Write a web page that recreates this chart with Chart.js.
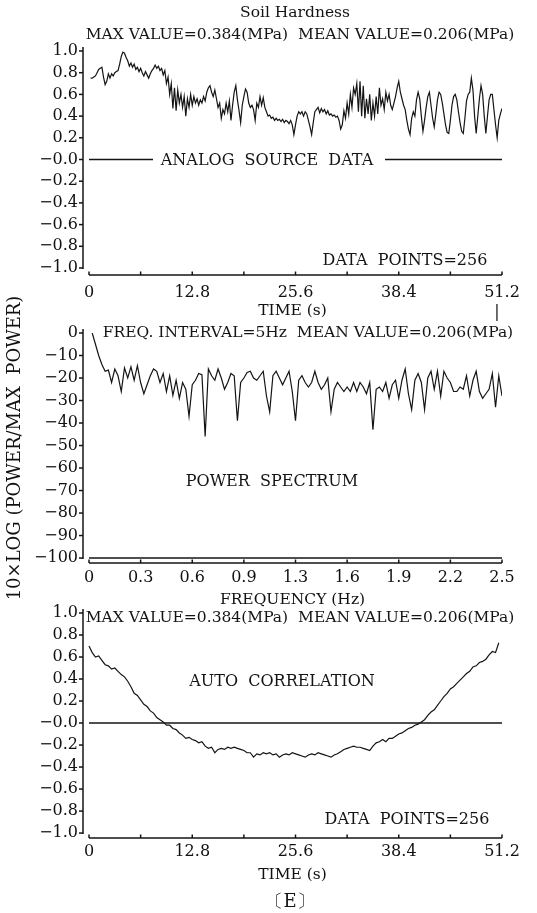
<!DOCTYPE html>
<html><head><meta charset="utf-8">
<script src="https://cdn.jsdelivr.net/npm/chart.js@4/dist/chart.umd.min.js"></script>
<style>
html,body{margin:0;padding:0;background:#fff;}
#wrap{position:relative;width:537px;height:913px;overflow:hidden;background:#fff;}
canvas{position:absolute;left:0;top:0;}
</style></head><body>
<div id="wrap">
<canvas id="c1" width="537" height="913"></canvas>
<canvas id="c2" width="537" height="913"></canvas>
<canvas id="c3" width="537" height="913"></canvas>
</div>
<script>
// ---------- data ----------
const sourceTimeStep = 0.2; // s
const sourceData = [
0.75,0.75,0.76,0.77,0.80,0.83,0.84,0.85,0.76,0.69,
0.72,0.79,0.75,0.79,0.77,0.80,0.81,0.82,0.88,0.95,
0.99,0.98,0.94,0.91,0.86,0.89,0.85,0.88,0.83,0.85,
0.81,0.84,0.80,0.77,0.81,0.78,0.75,0.79,0.82,0.84,
0.87,0.84,0.86,0.82,0.84,0.78,0.82,0.70,0.76,0.60,
0.70,0.47,0.66,0.45,0.64,0.52,0.60,0.48,0.58,0.40,
0.56,0.48,0.60,0.50,0.58,0.52,0.56,0.50,0.55,0.52,
0.58,0.54,0.62,0.66,0.68,0.62,0.58,0.64,0.56,0.48,
0.52,0.38,0.46,0.42,0.52,0.44,0.54,0.36,0.50,0.62,
0.68,0.55,0.45,0.34,0.50,0.58,0.65,0.62,0.52,0.48,
0.50,0.46,0.36,0.52,0.48,0.58,0.50,0.57,0.48,0.44,
0.40,0.41,0.38,0.39,0.36,0.38,0.36,0.37,0.35,0.37,
0.34,0.36,0.35,0.33,0.36,0.32,0.23,0.32,0.40,0.44,
0.42,0.44,0.40,0.44,0.42,0.36,0.30,0.23,0.34,0.44,
0.46,0.48,0.43,0.47,0.44,0.46,0.42,0.45,0.41,0.42,
0.40,0.41,0.39,0.40,0.36,0.28,0.32,0.45,0.38,0.52,
0.42,0.60,0.48,0.66,0.60,0.70,0.44,0.72,0.40,0.68,
0.38,0.56,0.42,0.60,0.36,0.52,0.40,0.58,0.42,0.66,
0.50,0.56,0.46,0.62,0.54,0.60,0.50,0.46,0.52,0.58,
0.66,0.72,0.62,0.56,0.50,0.46,0.36,0.28,0.23,0.38,
0.44,0.40,0.55,0.62,0.56,0.40,0.26,0.36,0.48,0.58,
0.62,0.50,0.38,0.30,0.42,0.55,0.62,0.60,0.52,0.42,
0.32,0.25,0.24,0.36,0.50,0.58,0.60,0.55,0.44,0.34,
0.26,0.24,0.38,0.54,0.60,0.62,0.75,0.64,0.40,0.24,
0.40,0.56,0.68,0.60,0.40,0.24,0.40,0.55,0.60,0.60,
0.46,0.32,0.20,0.36,0.42,0.47
];

const spectrumFreqStep = 5 / 256; // Hz
const spectrumData = [
0,-5,-10,-14,-17,-16.5,-22,-16,-19,-26,
-15.5,-20,-15,-21,-14.5,-22,-27,-23,-19,-16,
-17,-22,-18,-26,-19,-27.7,-21,-29,-22,-25,
-37,-23,-21,-18,-18.5,-46,-16,-19,-21,-16,
-20,-25,-22,-18,-19,-39,-22,-20,-17.5,-17,
-20,-21,-19,-17,-28,-35,-19,-17,-20,-23,
-20,-17,-26,-39,-21,-19,-22,-24,-22,-17,
-22,-25,-23,-20,-35,-25,-22,-24,-26,-24,
-26,-22,-26,-22,-24,-27,-22,-43,-25,-24,
-26,-22,-29,-23,-21,-29,-21,-16,-27,-34,
-21,-18,-22,-34,-20,-17,-25,-17,-28,-17,
-20,-22,-26,-26,-24,-25,-19,-28,-21,-17,
-26,-29,-27,-25,-18,-33,-19,-28
];
const spectrumFloor = -100;

const autoCorrLagStep = 0.4; // s
const autoCorrData = [
0.70,0.64,0.60,0.61,0.57,0.53,0.52,0.49,0.50,0.47,
0.44,0.42,0.38,0.33,0.27,0.25,0.21,0.17,0.15,0.11,
0.09,0.05,0.03,0.01,-0.02,-0.02,-0.05,-0.06,-0.09,-0.11,
-0.14,-0.13,-0.15,-0.16,-0.18,-0.17,-0.21,-0.23,-0.22,-0.27,
-0.24,-0.23,-0.24,-0.22,-0.23,-0.22,-0.23,-0.24,-0.25,-0.27,
-0.27,-0.31,-0.28,-0.29,-0.27,-0.28,-0.27,-0.29,-0.28,-0.31,
-0.29,-0.28,-0.29,-0.27,-0.28,-0.29,-0.30,-0.31,-0.29,-0.28,
-0.29,-0.27,-0.28,-0.29,-0.30,-0.31,-0.29,-0.28,-0.26,-0.24,
-0.23,-0.22,-0.21,-0.22,-0.22,-0.23,-0.24,-0.25,-0.21,-0.18,
-0.17,-0.15,-0.17,-0.14,-0.14,-0.12,-0.10,-0.09,-0.07,-0.05,
-0.04,-0.02,-0.01,0.01,0.03,0.07,0.10,0.12,0.16,0.20,
0.24,0.27,0.31,0.33,0.36,0.39,0.42,0.45,0.47,0.51,
0.52,0.55,0.56,0.58,0.62,0.65,0.64,0.73
];

// ---------- ticks ----------
const timeTicks = [0, 6.4, 12.8, 19.2, 25.6, 32.0, 38.4, 44.8, 51.2];
const timeTickLabels = ['0', '', '12.8', '', '25.6', '', '38.4', '', '51.2'];
const freqTicks = [0, 0.3125, 0.625, 0.9375, 1.25, 1.5625, 1.875, 2.1875, 2.5];
const freqTickLabels = ['0', '0.3', '0.6', '0.9', '1.3', '1.6', '1.9', '2.2', '2.5'];
const unitTicks = [1.0, 0.8, 0.6, 0.4, 0.2, 0.0, -0.2, -0.4, -0.6, -0.8, -1.0];
const unitTickLabels = ['1.0', '0.8', '0.6', '0.4', '0.2', '\u22120.0', '\u22120.2', '\u22120.4', '\u22120.6', '\u22120.8', '\u22121.0'];
const dbTicks = [0, -10, -20, -30, -40, -50, -60, -70, -80, -90, -100];
const dbTickLabels = ['0', '\u221210', '\u221220', '\u221230', '\u221240', '\u221250', '\u221260', '\u221270', '\u221280', '\u221290', '\u2212100'];

// ---------- setup ----------
const FONT = "'DejaVu Serif', 'Liberation Serif', serif";
Chart.defaults.font.family = FONT;
Chart.defaults.color = '#111';
Chart.defaults.animation = false;

const INK = '#141414';

const axisPlugin = {
  id: 'plotAxes',
  afterDraw(chart, args, o) {
    const {ctx, chartArea} = chart;
    const xs = chart.scales.x, ys = chart.scales.y;
    ctx.save();
    ctx.strokeStyle = INK;
    ctx.lineWidth = 1.5;
    const line = (a, b, c, d) => { ctx.beginPath(); ctx.moveTo(a, b); ctx.lineTo(c, d); ctx.stroke(); };
    const x0 = chartArea.left;
    const yVals = o.yTicks;
    line(x0, ys.getPixelForValue(yVals[0]) - 4, x0, ys.getPixelForValue(yVals[yVals.length - 1]) + 1);
    yVals.forEach(v => { const p = ys.getPixelForValue(v); line(x0 - 4, p, x0, p); });
    const yb = chartArea.bottom;
    const xVals = o.xTicks;
    line(xs.getPixelForValue(xVals[0]), yb, xs.getPixelForValue(xVals[xVals.length - 1]), yb);
    xVals.forEach(v => { const p = xs.getPixelForValue(v); line(p, yb, p, yb - 3.5); });
    ctx.restore();
  }
};

const textPlugin = {
  id: 'plotTexts',
  afterDatasetsDraw(chart, args, o) {
    const {ctx} = chart;
    ctx.save();
    (o.items || []).forEach(it => {
      if (it.gap) {
        ctx.fillStyle = '#fff';
        ctx.fillRect(it.gap[0], it.y - 4, it.gap[1] - it.gap[0], 8);
      }
      ctx.fillStyle = INK;
      ctx.font = (it.size || 16) + 'px ' + FONT;
      ctx.textAlign = 'center';
      ctx.textBaseline = 'middle';
      ctx.fillText(it.t, it.x, it.y);
    });
    ctx.restore();
  }
};

function makeChart(id, c) {
  return new Chart(document.getElementById(id), {
    type: 'line',
    data: { datasets: c.datasets },
    options: {
      responsive: false,
      animation: false,
      layout: { padding: { left: 0, right: 35, top: c.top, bottom: c.bottom } },
      plugins: {
        legend: { display: false },
        tooltip: { enabled: false },
        plotAxes: { xTicks: c.xTicks, yTicks: c.yTicks },
        plotTexts: { items: c.texts }
      },
      elements: { point: { radius: 0 }, line: { tension: 0 } },
      scales: {
        x: {
          type: 'linear', min: c.xMin, max: c.xMax,
          grid: { display: false, drawTicks: false },
          border: { display: false },
          afterBuildTicks: s => { s.ticks = c.xTicks.map(v => ({ value: v })); },
          afterFit: s => { s.height = c.xH; },
          ticks: { autoSkip: false, maxRotation: 0, minRotation: 0, padding: c.xPad, font: { size: 16 },
                   callback: (v, i) => c.xLabels[i] },
          title: { display: true, text: c.xTitle, font: { size: 15.5 }, padding: { top: 0, bottom: 0 } }
        },
        y: {
          type: 'linear', min: c.yMin, max: c.yMax,
          grid: { display: false, drawTicks: false },
          border: { display: false },
          afterBuildTicks: s => { s.ticks = c.yTicks.map(v => ({ value: v })); },
          afterFit: s => { s.width = 83; },
          ticks: { autoSkip: false, padding: 5, font: { size: 16 },
                   callback: (v, i) => c.yLabels[i] },
          title: c.yTitle ? { display: true, text: c.yTitle, font: { size: 18 }, padding: { top: 5, bottom: 0 } } : { display: false }
        }
      }
    },
    plugins: [axisPlugin, textPlugin]
  });
}

const lineStyle = { borderColor: INK, borderWidth: 1.2, pointRadius: 0, fill: false };
const refStyle = { borderColor: INK, borderWidth: 1.5, pointRadius: 0, fill: false };

// ---------- panel 1 : analog source data ----------
makeChart('c1', {
  top: 51, bottom: 913 - 275 - 45, xH: 45, xPad: 8,
  xMin: -6 / 8.066, xMax: 51.2, yMin: -1.0645, yMax: 1.0,
  xTicks: timeTicks, xLabels: timeTickLabels, xTitle: 'TIME (s)',
  yTicks: unitTicks, yLabels: unitTickLabels,
  datasets: [
    Object.assign({ data: sourceData.map((v, i) => ({ x: (i + 1) * sourceTimeStep, y: v })) }, lineStyle),
    Object.assign({ data: [{ x: timeTicks[0], y: 0 }, { x: timeTicks[timeTicks.length - 1], y: 0 }] }, refStyle)
  ],
  texts: [
    { t: 'Soil Hardness', x: 295, y: 13, size: 15.5 },
    { t: 'MAX VALUE=0.384(MPa)  MEAN VALUE=0.206(MPa)', x: 300, y: 35, size: 15.5 },
    { t: 'ANALOG  SOURCE  DATA', x: 267, y: 161, gap: [153, 385] },
    { t: 'DATA  POINTS=256', x: 405, y: 261 },
    { t: '|', x: 497, y: 313 }
  ]
});

// ---------- panel 2 : power spectrum ----------
makeChart('c2', {
  top: 333, bottom: 913 - 563 - 46, xH: 46, xPad: 5,
  xMin: -6 / 165.2, xMax: 2.5, yMin: -102.2, yMax: 0,
  xTicks: freqTicks, xLabels: freqTickLabels, xTitle: 'FREQUENCY (Hz)',
  yTicks: dbTicks, yLabels: dbTickLabels, yTitle: '10\u00D7LOG (POWER/MAX  POWER)',
  datasets: [
    Object.assign({ data: spectrumData.map((v, i) => ({ x: (i + 1) * spectrumFreqStep, y: v })) }, lineStyle),
    Object.assign({ data: [{ x: freqTicks[0], y: spectrumFloor }, { x: freqTicks[freqTicks.length - 1], y: spectrumFloor }] }, refStyle)
  ],
  texts: [
    { t: 'FREQ. INTERVAL=5Hz  MEAN VALUE=0.206(MPa)', x: 308, y: 333, size: 15.5 },
    { t: 'POWER  SPECTRUM', x: 272, y: 482 }
  ]
});

// ---------- panel 3 : auto correlation ----------
makeChart('c3', {
  top: 613, bottom: 913 - 838 - 46, xH: 46, xPad: 4,
  xMin: -6 / 8.066, xMax: 51.2, yMin: -1.045, yMax: 1.0,
  xTicks: timeTicks, xLabels: timeTickLabels, xTitle: 'TIME (s)',
  yTicks: unitTicks, yLabels: unitTickLabels,
  datasets: [
    Object.assign({ data: autoCorrData.map((v, i) => ({ x: i * autoCorrLagStep, y: v })) }, lineStyle),
    Object.assign({ data: [{ x: timeTicks[0], y: 0 }, { x: timeTicks[timeTicks.length - 1], y: 0 }] }, refStyle)
  ],
  texts: [
    { t: 'MAX VALUE=0.384(MPa)  MEAN VALUE=0.206(MPa)', x: 300, y: 618, size: 15.5 },
    { t: 'AUTO  CORRELATION', x: 282, y: 682 },
    { t: 'DATA  POINTS=256', x: 407, y: 820 },
    { t: '\u3014E\u3015', x: 290, y: 902, size: 18 }
  ]
});
</script>
</body></html>
